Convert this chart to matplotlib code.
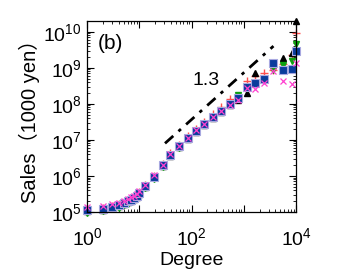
import matplotlib
matplotlib.use('Agg')
import matplotlib.pyplot as plt
import numpy as np
from matplotlib.ticker import LogLocator

plt.rcParams['font.family'] = ['Liberation Sans', 'Noto Sans CJK JP', 'DejaVu Sans']
plt.rcParams['mathtext.fontset'] = 'custom'
plt.rcParams['mathtext.rm'] = 'Liberation Sans'
plt.rcParams['mathtext.it'] = 'Liberation Sans'
plt.rcParams['mathtext.default'] = 'regular'

degree = [1, 2, 3, 4, 5, 6, 7, 8, 9, 10, 13, 19, 28, 39, 57, 85, 123, 176,
          263, 363, 550, 776, 1150, 1620, 2450, 3550, 5600, 8300, 10000]

# log10 of sales for each series
blue_sq = [5.04, 5.08, 5.13, 5.18, 5.24, 5.29, 5.33, 5.38, 5.44, 5.52, 5.72, 5.98,
           6.29, 6.59, 6.83, 7.05, 7.25, 7.44, 7.63, 7.81, 7.99, 8.15, 8.47, 8.58,
           8.70, 9.12, 8.94, 8.98, 9.48]
mag_x = [5.13, 5.17, 5.21, 5.26, 5.31, 5.36, 5.40, 5.45, 5.50, 5.57, 5.76, 6.02,
         6.31, 6.60, 6.84, 7.06, 7.27, 7.45, 7.64, 7.80, 7.98, 8.12, 8.44, 8.42,
         8.58, 8.90, 8.62, 8.56, 9.13]
red_plus = [5.07, 5.11, 5.16, 5.21, 5.27, 5.32, 5.36, 5.41, 5.47, 5.55, 5.75, 6.01,
            6.33, 6.63, 6.87, 7.10, 7.31, 7.50, 7.72, 7.90, 8.13, 8.16, 8.62, 8.76,
            8.85, 8.93, 9.10, 9.36, 9.96]
black_tri = [5.02, 5.06, 5.11, 5.16, 5.22, 5.27, 5.31, 5.36, 5.42, 5.50, 5.70, 5.96,
             6.27, 6.56, 6.80, 7.02, 7.22, 7.41, 7.60, 7.78, 7.97, 8.12, 8.30, 8.85,
             8.70, 9.10, 9.27, 9.40, 10.31]
green_v = [4.98, 5.02, 5.07, 5.12, 5.18, 5.23, 5.27, 5.32, 5.38, 5.45, 5.65, 5.92,
           6.24, 6.54, 6.78, 7.01, 7.22, 7.42, 7.62, 7.80, 7.99, 8.25, 8.45, 8.57,
           8.68, 8.94, 9.08, 9.18, 9.66]

line_x = [31, 3700]
slope = 1.3

fig = plt.figure(figsize=(3.43, 2.72), dpi=100)
ax = fig.add_axes([0.254, 0.221, 0.609, 0.702])

def pw(v):
    return [10 ** a for a in v]

ax.plot(degree, pw(red_plus), '+', color='#ff5050', ms=6, mew=1.0, clip_on=False)
ax.plot(degree, pw(black_tri), '^', color='black', ms=5, clip_on=False)
ax.plot(degree, pw(green_v), 'v', color='#10a010', ms=5, clip_on=False)
ax.plot(degree, pw(blue_sq), 's', color='#0a3c9c', mec='#a8a8e0', mew=0.8, ms=5.5, clip_on=False)
ax.plot(degree, pw(mag_x), 'x', color='#ff40d0', ms=5, mew=0.9, clip_on=False)

lx = np.array(line_x, dtype=float)
ly = 8e6 * (lx / lx[0]) ** slope
ax.plot(lx, ly, color='black', lw=2.0, dashes=(4, 2.5, 1.2, 2.5))

ax.set_xscale('log')
ax.set_yscale('log')
ax.set_xlim(1, 1e4)
ax.set_ylim(1e5, 2e10)

ax.yaxis.set_major_locator(LogLocator(base=10, numticks=10))
ax.xaxis.set_minor_locator(LogLocator(base=10, subs=np.arange(2, 10), numticks=20))
ax.yaxis.set_minor_locator(LogLocator(base=10, subs=np.arange(2, 10), numticks=20))

ax.set_xticks([1, 10, 100, 1000, 10000])
ax.set_xticklabels(['$10^0$', '', '$10^2$', '', '$10^4$'])

ax.tick_params(which='both', direction='in', top=True, right=True, labelsize=14)
ax.tick_params(which='major', length=5, width=0.8)
ax.tick_params(which='minor', length=2.5, width=0.6)
ax.tick_params(axis='x', pad=11)
ax.tick_params(axis='y', pad=4)

ax.set_xlabel('Degree', fontsize=14, labelpad=2)
ax.set_ylabel('Sales\uff081000 yen\uff09', fontsize=14.5, labelpad=2)

ax.text(0.05, 0.93, '(b)', transform=ax.transAxes, fontsize=15, va='top', ha='left')
ax.text(10 ** 2.27, 10 ** 8.65, '1.3', fontsize=14, ha='center', va='center')

for s in ax.spines.values():
    s.set_linewidth(0.9)

fig.savefig('out.png', dpi=100)
